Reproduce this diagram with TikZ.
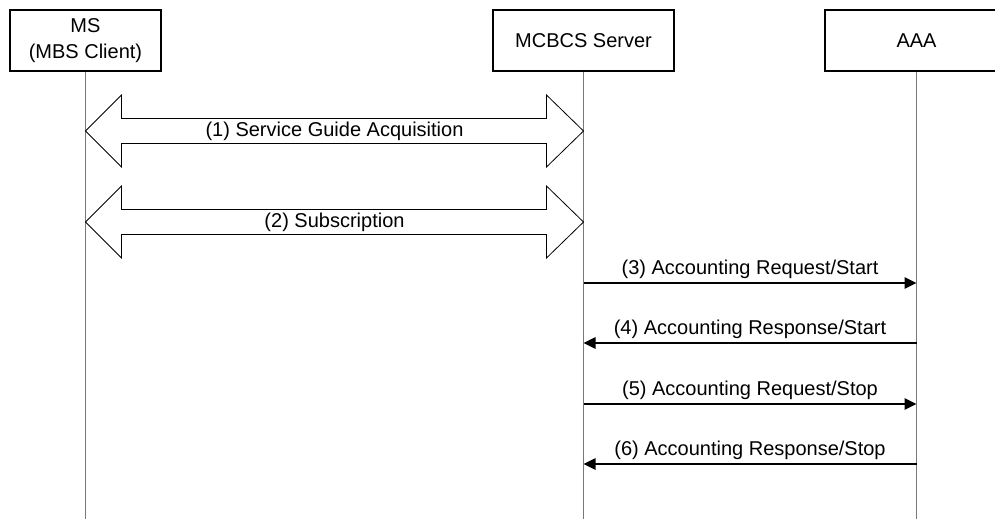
\documentclass[tikz,border=0pt]{standalone}
\usepackage{fontspec}
\setmainfont{Liberation Sans}
\usetikzlibrary{arrows.meta,calc}

\definecolor{lifegray}{RGB}{120,120,120}
\tikzset{
	entity/.style={draw=black, line width=0.8pt, minimum height=45.75pt, inner sep=0pt, align=center, font=\fontsize{15}{20}\selectfont},
	lifeline/.style={draw=lifegray, line width=0.8pt},
	blockarrow/.style={draw=black, line width=0.6pt, line join=miter},
	msg/.style={draw=black, line width=1.2pt, -{Triangle[length=9pt,width=8.5pt]}},
	lbl/.style={inner sep=0pt, font=\fontsize{15}{18}\selectfont}}
\tikzset{every picture/.style={line width=0.75pt}}

\begin{document}
\begin{tikzpicture}[x=0.75pt,y=0.75pt,yscale=-1,xscale=1]
	\useasboundingbox (0,0) rectangle (995,519);
	\clip (0,0) rectangle (995,519);

	% Entities
	\node[entity, minimum width=113.25pt] (ms) at (85.5,40.5) {MS\\(MBS Client)};
	\node[entity, minimum width=135.75pt] (srv) at (583.5,40.5) {MCBCS Server};
	\node[entity, minimum width=137.25pt] (aaa) at (916.5,40.5) {AAA};

	% Lifelines
	\coordinate (bottom) at (0,519);
	\draw[lifeline] (ms.south) -- (ms.south |- bottom);
	\draw[lifeline] (srv.south) -- (srv.south |- bottom);
	\draw[lifeline] (aaa.south) -- (aaa.south |- bottom);

	% Points on the lifelines
	\foreach \n/\y in {1/131,2/222,3/283,4/343,5/404,6/464}{
		\path (ms.south |- 0,\y) coordinate (ms\n);
		\path (srv.south |- 0,\y) coordinate (srv\n);
		\path (aaa.south |- 0,\y) coordinate (aaa\n);
	}

	% (1) and (2): block arrows MS <-> MCBCS Server
	\foreach \n/\txt in {1/{(1) Service Guide Acquisition},2/{(2) Subscription}}{
		\draw[blockarrow] (ms\n) -- ++(36,-36) -- ++(0,23.5) -- ($(srv\n)+(-37,-12.5)$) -- ++(0,-23.5) -- (srv\n)
			-- ++(-37,36) -- ++(0,-23.5) -- ($(ms\n)+(36,12.5)$) -- ++(0,23.5) -- cycle;
		\node[lbl] (lbl\n) at ($(ms\n)!0.5!(srv\n)$) {\txt};
	}

	% (3) - (6): accounting messages
	\draw[msg] (srv3) -- (aaa3) node[midway, lbl, yshift=10pt] {(3) Accounting Request/Start};
	\draw[msg] (aaa4) -- (srv4) node[midway, lbl, yshift=10pt] {(4) Accounting Response/Start};
	\draw[msg] (srv5) -- (aaa5) node[midway, lbl, yshift=10pt] {(5) Accounting Request/Stop};
	\draw[msg] (aaa6) -- (srv6) node[midway, lbl, yshift=10pt] {(6) Accounting Response/Stop};

\end{tikzpicture}
\end{document}
